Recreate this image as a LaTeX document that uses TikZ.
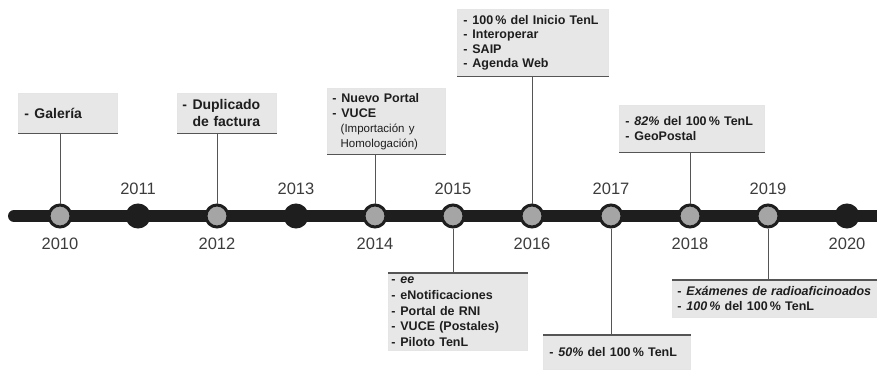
\documentclass[tikz,border=0pt]{standalone}
\usepackage{fontspec}
\setmainfont{Liberation Sans}
\usetikzlibrary{positioning}

\newcommand{\itm}{-\hspace{0.4em}}

\begin{document}
\begin{tikzpicture}[x=1pt,y=-1pt]

\definecolor{axisblack}{RGB}{30, 30, 30}
\definecolor{dotgray}{RGB}{165, 165, 165}
\definecolor{boxgray}{RGB}{231, 231, 231}
\definecolor{rimgray}{RGB}{85, 85, 85}
\definecolor{yeargray}{RGB}{60, 60, 60}
\definecolor{textdark}{RGB}{30, 30, 30}

\useasboundingbox (0,0) rectangle (877,369);

\tikzset{
    axis/.style={
        draw=axisblack, line width=12pt, line cap=round
    },
    event dot/.style={
        circle, draw=axisblack, line width=3pt, fill=dotgray,
        minimum size=22pt, inner sep=0pt
    },
    idle dot/.style={
        circle, draw=axisblack, line width=3pt, fill=axisblack,
        minimum size=22pt, inner sep=0pt
    },
    year/.style={
        inner sep=0pt, text=yeargray, font=\fontsize{16.5}{19}\selectfont
    },
    entry/.style={
        fill=boxgray, draw=black!10, line width=0.5pt,
        anchor=north west, inner xsep=6pt, inner ysep=0pt,
        align=left, text=textdark,
        font=\bfseries\fontsize{12.5}{15}\selectfont
    },
    link/.style={
        draw=rimgray, line width=1pt
    },
    rim/.style={
        draw=rimgray, line width=1.5pt
    }
}

% TIME AXIS
\coordinate (bar start) at (14,216);
\coordinate (bar end) at (895,216);
\draw[axis] (bar start) -- (bar end);

% YEARS
\node[event dot] (c10) at (60,216) {};
\node[idle dot]  (c11) at (138,216) {};
\node[event dot] (c12) at (217,216) {};
\node[idle dot]  (c13) at (296,216) {};
\node[event dot] (c14) at (375,216) {};
\node[event dot] (c15) at (453,216) {};
\node[event dot] (c16) at (532,216) {};
\node[event dot] (c17) at (611,216) {};
\node[event dot] (c18) at (690,216) {};
\node[event dot] (c19) at (768,216) {};
\node[idle dot]  (c20) at (847,216) {};

\node[year, below=9pt of c10] (y10) {2010};
\node[year, above=9pt of c11] (y11) {2011};
\node[year, below=9pt of c12] (y12) {2012};
\node[year, above=9pt of c13] (y13) {2013};
\node[year, below=9pt of c14] (y14) {2014};
\node[year, above=9pt of c15] (y15) {2015};
\node[year, below=9pt of c16] (y16) {2016};
\node[year, above=9pt of c17] (y17) {2017};
\node[year, below=9pt of c18] (y18) {2018};
\node[year, above=9pt of c19] (y19) {2019};
\node[year, below=9pt of c20] (y20) {2020};

% BOXES ABOVE THE AXIS
\node[entry, text width=87pt, minimum height=40pt,
      font=\bfseries\fontsize{14}{17}\selectfont] (b10) at (18,93) {\itm Galería};
\node[entry, text width=89pt, minimum height=40pt, inner xsep=5pt,
      font=\bfseries\fontsize{14}{17}\selectfont] (b12) at (177,93)
      {\itm Duplicado\\\phantom{\itm}de factura};
\node[entry, text width=108pt, minimum height=66pt, inner xsep=5pt] (b14) at (327,88)
      {\itm Nuevo Portal\\\itm VUCE\\
       {\mdseries\fontsize{11.5}{15}\selectfont\phantom{\bfseries\itm}(Importación y}\\
       {\mdseries\fontsize{11.5}{15}\selectfont\phantom{\bfseries\itm}Homologación)}};
\node[entry, text width=139pt, minimum height=67pt,
      font=\bfseries\fontsize{12.5}{14.5}\selectfont] (b16) at (457,9)
      {\itm 100\,\% del Inicio TenL\\\itm Interoperar\\\itm SAIP\\\itm Agenda Web};
\node[entry, text width=133pt, minimum height=47pt] (b18) at (619,105)
      {\itm \textit{82\%} del 100\,\% TenL\\\itm GeoPostal};

% BOXES BELOW THE AXIS
\node[entry, text width=133pt, minimum height=77pt, inner xsep=3pt,
      font=\bfseries\fontsize{12.5}{15.7}\selectfont] (b15) at (388,273)
      {\itm \textit{ee}\\\itm eNotificaciones\\\itm Portal de RNI\\\itm VUCE (Postales)\\\itm Piloto TenL};
\node[entry, text width=135pt, minimum height=34pt] (b17) at (543,335)
      {\itm \textit{50\%} del 100\,\% TenL};
\node[entry, text width=205pt, minimum height=37pt, inner xsep=5pt] (b19) at (672,280)
      {\itm \textit{Exámenes de radioaficinoados}\\\itm \textit{100\,\%} del 100\,\% TenL};

% LINKS
\draw[link] (c10) -- (c10 |- b10.south);
\draw[link] (c12) -- (c12 |- b12.south);
\draw[link] (c14) -- (c14 |- b14.south);
\draw[link] (c16) -- (c16 |- b16.south);
\draw[link] (c18) -- (c18 |- b18.south);
\draw[link] (c15) -- (c15 |- b15.north);
\draw[link] (c17) -- (c17 |- b17.north);
\draw[link] (c19) -- (c19 |- b19.north);

% Box rims
\draw[rim] (b10.south west) -- (b10.south east);
\draw[rim] (b12.south west) -- (b12.south east);
\draw[rim] (b14.south west) -- (b14.south east);
\draw[rim] (b16.south west) -- (b16.south east);
\draw[rim] (b18.south west) -- (b18.south east);
\draw[rim] (b15.north west) -- (b15.north east);
\draw[rim] (b17.north west) -- (b17.north east);
\draw[rim] (b19.north west) -- (b19.north east);

\end{tikzpicture}
\end{document}
